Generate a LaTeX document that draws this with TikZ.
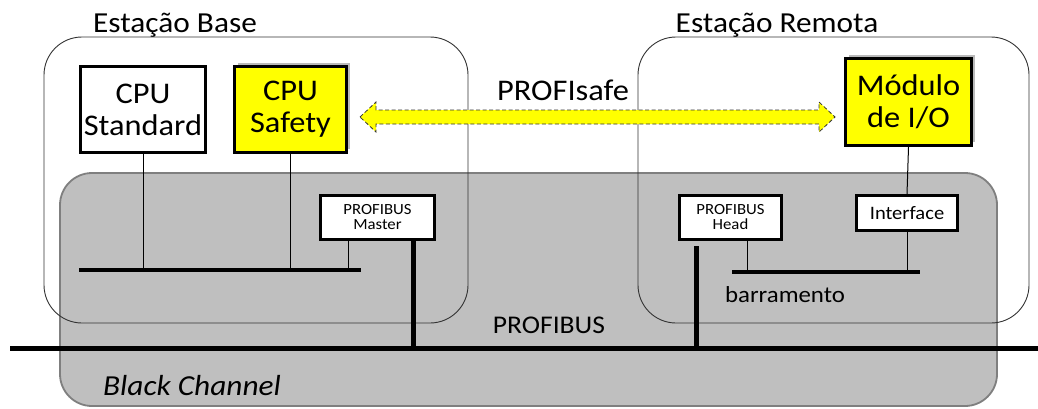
\documentclass[tikz,border=0pt]{standalone}
\usepackage{fontspec}
\setmainfont{Carlito}[FakeStretch=1.08]
\usetikzlibrary{shadows}
\definecolor{chgrey}{HTML}{BFBFBF}
\definecolor{chedge}{HTML}{7F7F7F}
\definecolor{safeyellow}{HTML}{FFFF00}
\begin{document}
\begin{tikzpicture}[x=1pt,y=-1pt,
  station/.style={draw=black!80, line width=0.9pt, rounded corners=38pt},
  unit/.style={draw=black, line width=3pt, fill=white, align=center, inner sep=0pt,
    font=\fontsize{30}{32}\selectfont},
  safeunit/.style={unit, fill=safeyellow,
    drop shadow={shadow xshift=3pt, shadow yshift=4pt, opacity=.45, fill=black!60}},
  smallunit/.style={unit, font=\fontsize{15.5}{15}\selectfont},
  wire/.style={line width=1pt},
  bus/.style={line width=3.5pt},
  trunk/.style={line width=5pt},
  lbl/.style={anchor=base, inner sep=0pt, font=\fontsize{25.5}{25.5}\selectfont}
]
\useasboundingbox (0,0) rectangle (1038,408);
\fill[white] (0,0) rectangle (1038,408);

% black channel area
\draw[fill=chgrey, draw=chedge, line width=1.8pt, rounded corners=32pt]
  (60,173) rectangle (997,406);

% station outlines
\draw[station] (44,37) rectangle (468,323);
\draw[station] (638,37) rectangle (1029,323);

% devices
\node[unit, minimum width=125pt, minimum height=86pt] (std) at (143,109.5) {CPU\\Standard};
\node[safeunit, minimum width=112pt, minimum height=86pt] (safe) at (290.5,109.5) {CPU\\Safety};
\node[safeunit, minimum width=126pt, minimum height=87pt] (io) at (908.5,102) {Módulo\\de I/O};
\node[smallunit, minimum width=114pt, minimum height=44pt] (master) at (377.5,217.5) {PROFIBUS\\Master};
\node[smallunit, minimum width=102pt, minimum height=44pt] (head) at (730.5,217.5) {PROFIBUS\\Head};
\node[smallunit, font=\fontsize{19}{19}\selectfont, minimum width=101pt, minimum height=35pt]
  (iface) at (907,213) {Interface};

% bus end points and taps
\coordinate (bbL) at (79,270);   \coordinate (bbR) at (361,270);
\coordinate (rbL) at (732,272);  \coordinate (rbR) at (920,272);
\coordinate (pbL) at (10,348);   \coordinate (pbR) at (1038,348);
\coordinate (mtap) at (348,270); \coordinate (htap) at (747,272);
\coordinate (mdrop) at (413,348); \coordinate (hdrop) at (696,348);

% local connections
\draw[wire] (std.south) -- (std.south |- bbL);
\draw[wire] (safe.south) -- (safe.south |- bbL);
\draw[wire] (mtap |- master.south) -- (mtap);
\draw[wire] (htap |- head.south) -- (htap);
\draw[wire] (iface.south) -- (iface.south |- rbL);
\draw[wire] (io.south) -- (iface.north);

% backplane buses
\draw[bus] (bbL) -- (bbR);
\draw[bus] (rbL) -- (rbR);

% PROFIBUS trunk and drops
\draw[trunk] (pbL) -- (pbR);
\draw[trunk] (mdrop |- master.south) -- (mdrop);
\draw[trunk] ([yshift=-5pt]hdrop |- head.south) -- (hdrop);

% PROFIsafe double arrow
\draw[fill=safeyellow, draw=black!80, line width=0.8pt, dash pattern=on 4pt off 2.5pt]
  (360,117) -- (376,102) -- (376,110) -- (819,110) -- (819,102) -- (835,117)
  -- (819,132) -- (819,124) -- (376,124) -- (376,132) -- cycle;

% labels
\node[lbl, font=\fontsize{29}{29}\selectfont] (tbase) at (175,32) {Estação Base};
\node[lbl, font=\fontsize{29}{29}\selectfont] (tremote) at (777,32) {Estação Remota};
\node[lbl, font=\fontsize{30}{30}\selectfont] (tsafe) at (563,100) {PROFIsafe};
\node[lbl] (tbus) at (549,333) {PROFIBUS};
\node[lbl, font=\fontsize{23}{23}\selectfont] (tbarr) at (785,302) {barramento};
\node[lbl, font=\fontsize{29}{29}\selectfont\itshape] (tblack) at (192,395) {Black Channel};
\end{tikzpicture}
\end{document}
